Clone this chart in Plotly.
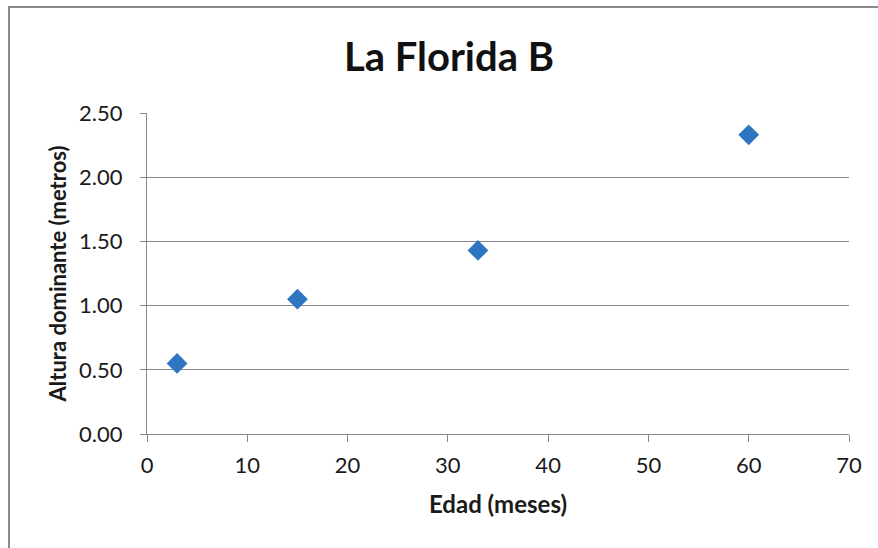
import plotly.graph_objects as go

# Edad (meses) vs. altura dominante (metros)
edad_meses = [3, 15, 33, 60]
altura_m = [0.55, 1.05, 1.43, 2.33]

x_ticks = [0, 10, 20, 30, 40, 50, 60, 70]
y_ticks = [0.0, 0.5, 1.0, 1.5, 2.0, 2.5]
y_tick_text = ["0.00", "0.50", "1.00", "1.50", "2.00", "2.50"]

FONT = "Lato"
GRID = "#878787"
TEXT = "#1a1a1a"

W, H = 878, 548
L, R, T, B = 147, 29, 113, 114
pw, ph = W - L - R, H - T - B

fig = go.Figure(
    go.Scatter(
        x=edad_meses,
        y=altura_m,
        mode="markers",
        marker=dict(symbol="diamond", size=16, color="#2E75C2", line=dict(width=0)),
        showlegend=False,
    )
)

# outer chart-area frame (open on the right and bottom edges of the page)
def px_x(px):
    return (px - L) / pw

def px_y(py):
    return (H - B - py) / ph

fig.add_shape(
    type="rect", xref="paper", yref="paper",
    x0=px_x(9), x1=px_x(900), y0=px_y(570), y1=px_y(7),
    line=dict(color="#8a8a8a", width=2), fillcolor="rgba(0,0,0,0)",
    layer="below",
)

fig.update_layout(
    width=W, height=H,
    margin=dict(l=L, r=R, t=T, b=B),
    paper_bgcolor="white", plot_bgcolor="white",
    font=dict(family=FONT, color=TEXT),
    title=dict(
        text="<b>La Florida B</b>",
        font=dict(family=FONT, size=40, color="#111"),
        x=449 / W, xanchor="center",
        y=1 - 57 / H, yanchor="middle", yref="container",
    ),
    xaxis=dict(
        range=[0, 70], tickvals=x_ticks, ticktext=[str(v) for v in x_ticks],
        showgrid=False, zeroline=False,
        showline=True, linecolor=GRID, linewidth=1,
        ticks="outside", ticklen=7, tickcolor=GRID, tickwidth=1,
        ticklabelstandoff=5,
        tickfont=dict(size=22, color=TEXT),
        title=dict(text="<b>Edad (meses)</b>", font=dict(size=24, color=TEXT), standoff=18),
    ),
    yaxis=dict(
        range=[0, 2.5], tickvals=y_ticks, ticktext=y_tick_text,
        showgrid=True, gridcolor=GRID, gridwidth=1,
        zeroline=False,
        showline=True, linecolor=GRID, linewidth=1,
        ticks="outside", ticklen=6, tickcolor=GRID, tickwidth=1,
        ticklabelstandoff=13,
        tickfont=dict(size=22, color=TEXT),
        title=dict(text="<b>Altura dominante (metros)</b>", font=dict(size=22, color=TEXT), standoff=6),
    ),
)

fig.write_html("out.html")
